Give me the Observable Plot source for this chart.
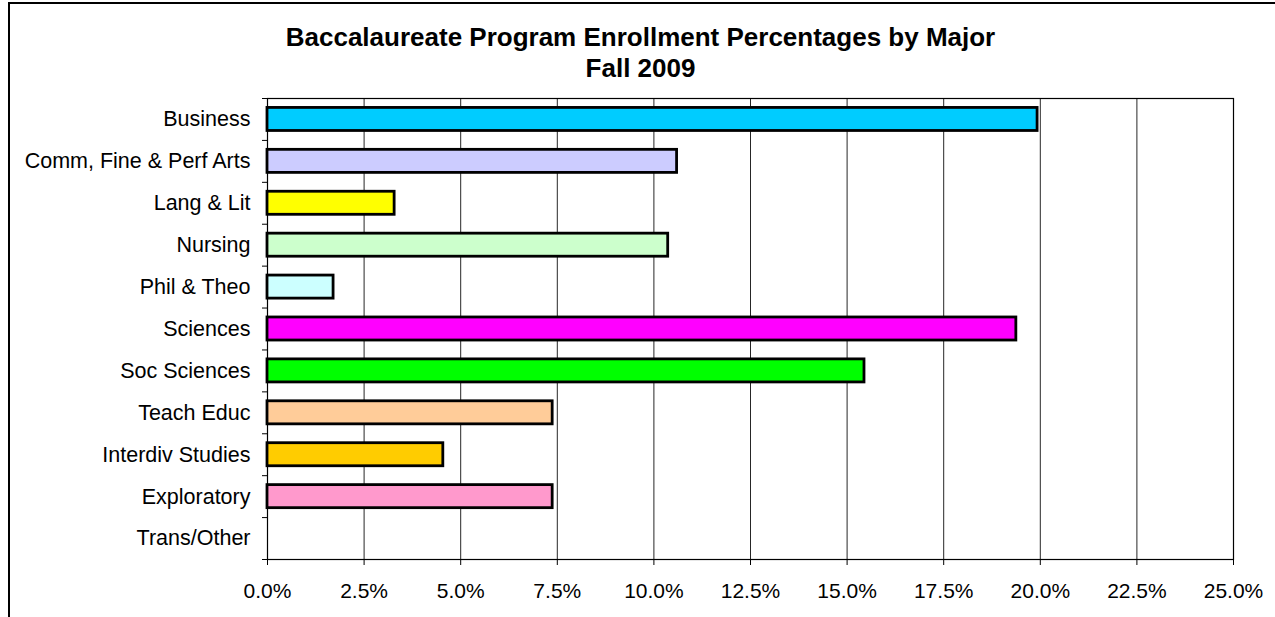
<!DOCTYPE html>
<html>
<head>
<meta charset="utf-8">
<script src="https://cdn.jsdelivr.net/npm/d3@7"></script>
<script src="https://cdn.jsdelivr.net/npm/@observablehq/plot@0.6"></script>
<style>
  html, body { margin: 0; padding: 0; background: #fff; }
  #wrap { position: relative; width: 1275px; height: 617px; overflow: hidden; }
  #border { position: absolute; left: 8px; top: 2px; width: 1300px; height: 700px;
            border-top: 2px solid #000; border-left: 2px solid #000; pointer-events: none; }
</style>
</head>
<body>
<div id="wrap"><div id="border"></div></div>
<script>
const titleLines = ["Baccalaureate Program Enrollment Percentages by Major", "Fall 2009"];
const majors = ["Business", "Comm, Fine & Perf Arts", "Lang & Lit", "Nursing", "Phil & Theo",
  "Sciences", "Soc Sciences", "Teach Educ", "Interdiv Studies", "Exploratory", "Trans/Other"];
const percents = [19.93, 10.6, 3.29, 10.37, 1.71, 19.38, 15.45, 7.38, 4.55, 7.38, 0];
const colors = ["#00CCFF", "#CCCCFF", "#FFFF00", "#CCFFCC", "#CCFFFF", "#FF00FF",
  "#00FF00", "#FFCC99", "#FFCC00", "#FF99CC", "#FFFFFF"];
const xTicks = [0, 2.5, 5, 7.5, 10, 12.5, 15, 17.5, 20, 22.5, 25];

const data = majors.map((m, i) => ({major: m, value: percents[i], color: colors[i]}));
const halfStep = (559 - 98) / majors.length / 2;

const chart = Plot.plot({
  width: 1275,
  height: 617,
  marginTop: 98,
  marginBottom: 58,
  marginLeft: 267,
  marginRight: 42,
  style: {fontFamily: "Arial, 'Liberation Sans', sans-serif", fontSize: "21px", color: "#000", background: "transparent"},
  x: {domain: [0, 25], ticks: xTicks, round: false},
  y: {domain: majors, paddingInner: 0.45, paddingOuter: 0.225, round: false},
  marks: [
    Plot.gridX(xTicks, {stroke: "#000", strokeOpacity: 0.85, strokeWidth: 1}),
    Plot.frame({stroke: "#000", strokeWidth: 1.2}),
    Plot.barX(data, {y: "major", x1: 0, x2: "value", fill: "color", stroke: "#000", strokeWidth: 2.8}),
    Plot.axisX(xTicks, {tickSize: 6, tickPadding: 18, tickFormat: d => d.toFixed(1) + "%", label: null, fontSize: 21}),
    Plot.axisY({tickSize: 0, tickPadding: 17, label: null, fontSize: 21.5}),
    Plot.axisY(majors, {tickSize: 5, tickFormat: () => "", dy: -halfStep, label: null}),
    Plot.axisY(majors.slice(-1), {tickSize: 5, tickFormat: () => "", dy: halfStep, label: null}),
    Plot.text([titleLines[0]], {frameAnchor: "top", lineAnchor: "middle", dx: -110, dy: -61, fontWeight: "bold", fontSize: 26, text: d => d}),
    Plot.text([titleLines[1]], {frameAnchor: "top", lineAnchor: "middle", dx: -110, dy: -30, fontWeight: "bold", fontSize: 26, text: d => d})
  ]
});
document.getElementById("wrap").prepend(chart);
</script>
</body>
</html>
